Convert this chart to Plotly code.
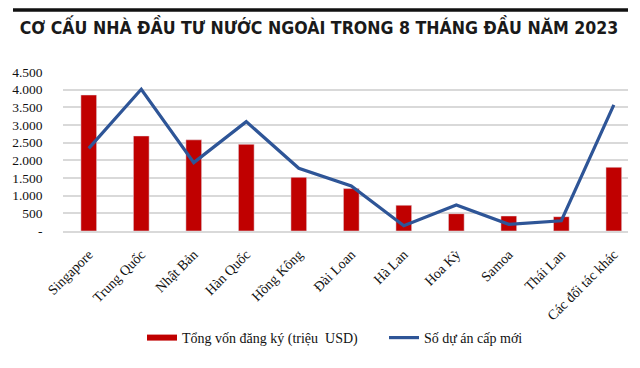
import plotly.graph_objects as go

categories = ["Singapore", "Trung Quốc", "Nhật Bản", "Hàn Quốc", "Hồng Kông", "Đài Loan",
              "Hà Lan", "Hoa Kỳ", "Samoa", "Thái Lan", "Các đối tác khác"]
capital = [3850, 2690, 2580, 2455, 1520, 1200, 730, 490, 425, 405, 1805]
projects = [2340, 4010, 1935, 3095, 1775, 1275, 150, 735, 190, 290, 3570]
y_tickvals = [0, 500, 1000, 1500, 2000, 2500, 3000, 3500, 4000, 4500]
y_ticktext = ["-", "500", "1.000", "1.500", "2.000", "2.500", "3.000", "3.500", "4.000", "4.500"]

title = "CƠ CẤU NHÀ ĐẦU TƯ NƯỚC NGOÀI TRONG 8 THÁNG ĐẦU NĂM 2023"
name_bar = "Tổng vốn đăng ký (triệu\u00a0 USD)"
name_line = "Số dự án cấp mới"

RED = "#C00000"
BLUE = "#2E5597"
SERIF = "Liberation Serif, Times New Roman, serif"
W, H = 640, 368
RULE_Y = 10

fig = go.Figure()
fig.add_trace(go.Bar(x=categories, y=capital, marker_color=RED, width=0.3,
                     showlegend=False, name=name_bar))
# legend proxy for bar series (a single point in lines mode draws nothing; only its legend line shows)
fig.add_trace(go.Scatter(x=categories[:1], y=capital[:1], mode="lines", name=name_bar,
                         line=dict(color=RED, width=6), legend="legend", hoverinfo="skip"))
fig.add_trace(go.Scatter(x=categories, y=projects, mode="lines", name=name_line,
                         line=dict(color=BLUE, width=3.2), legend="legend2"))

legend_font = dict(family=SERIF, size=14, color="#111")
fig.update_layout(
    width=W, height=H,
    margin=dict(l=0, r=0, t=0, b=0, autoexpand=False),
    paper_bgcolor="white", plot_bgcolor="white",
    title=dict(text="<b>" + title + "</b>", x=319 / W, xref="container", xanchor="center",
               y=1 - 28 / H, yref="container", yanchor="middle",
               font=dict(family="DejaVu Sans Condensed, DejaVu Sans", size=17.6, color="#1a1a1a")),
    xaxis=dict(domain=[62.5 / W, 628 / W], range=[-0.5, 10.27], tickangle=-45,
               showgrid=False, showline=True,
               linecolor="#D9D9D9", linewidth=1.5, ticks="", ticklabelstandoff=8,
               tickfont=dict(family=SERIF, size=14, color="#111")),
    yaxis=dict(domain=[1 - 231 / H, 1 - 72 / H], range=[0, 4500],
               tickvals=y_tickvals, ticktext=y_ticktext,
               showgrid=True, gridcolor="#D9D9D9", gridwidth=1.5, zeroline=False,
               ticklabelstandoff=19,
               tickfont=dict(family=SERIF, size=13.5, color="#111")),
    legend=dict(orientation="h", xref="container", x=142 / W, xanchor="left",
                yref="container", y=1 - 338 / H, yanchor="middle", font=legend_font),
    legend2=dict(orientation="h", xref="container", x=384 / W, xanchor="left",
                 yref="container", y=1 - 338 / H, yanchor="middle", font=legend_font),
    shapes=[dict(type="rect", xref="paper", yref="paper",
                 x0=13 / W, x1=628 / W, y0=1 - (RULE_Y + 1.75) / H, y1=1 - (RULE_Y - 1.75) / H,
                 fillcolor="#111", line=dict(width=0), layer="above")],
)

fig.write_html("out.html", post_script="document.body.style.margin='0';",
               config={"displayModeBar": False})
